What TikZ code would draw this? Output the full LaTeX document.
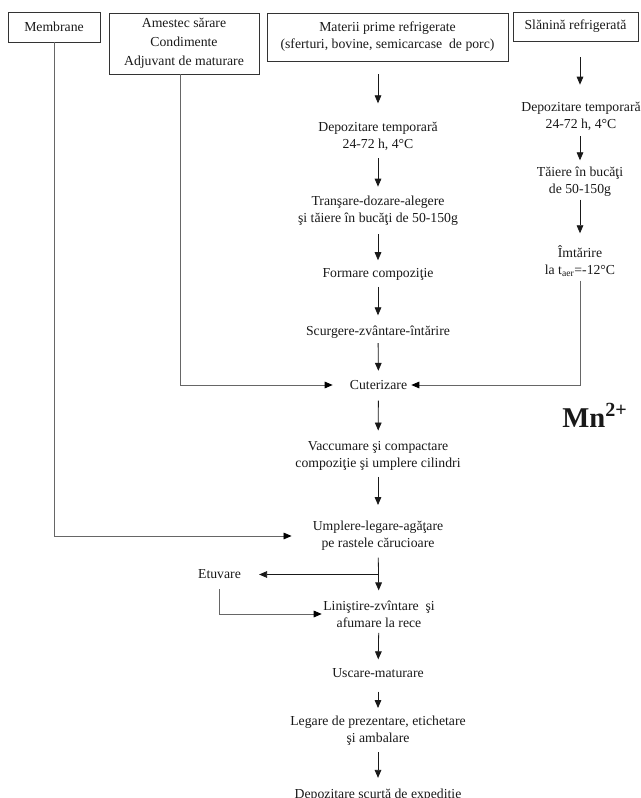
\documentclass[tikz,border=0pt]{standalone}
\usepackage{fontspec}
\setmainfont{Liberation Serif}
\usetikzlibrary{arrows.meta}
\begin{document}
\begin{tikzpicture}[x=0.75pt,y=-0.75pt,
  every node/.style={font=\fontsize{10.3}{12.75}\selectfont, align=center, inner sep=0pt, text=black!90},
  box/.style={draw=black!80, line width=0.6pt},
  arr/.style={draw=black!90, line width=0.6pt, -{Triangle[length=6pt,width=5pt]}},
  conn/.style={draw=black!60, line width=0.6pt, -{Triangle[length=6pt,width=5pt,color=black]}},
  line/.style={draw=black!60, line width=0.6pt}
]
\useasboundingbox (0,0) rectangle (641,798);

% top boxes
\node[box, minimum width=69pt, minimum height=22.5pt] (mem) at (54,27) {Membrane};
\node[box, minimum width=112.5pt, minimum height=45.75pt] (ame) at (184,43.5)
  {Amestec sărare\\[1.6pt]Condimente\\[1.6pt]Adjuvant de maturare};
\node[box, minimum width=180.75pt, minimum height=36pt] (mat) at (387.5,37)
  {Materii prime refrigerate\\(sferturi, bovine, semicarcase~ de porc)};
\node[box, minimum width=93.75pt, minimum height=21.75pt] (sla) at (575.5,26.5) {Slănină refrigerată};

% main column
\node (dep1) at (378,136.5) {Depozitare temporară\\24-72 h, 4°C};
\node (tran) at (378,211) {Tranşare-dozare-alegere\\şi tăiere în bucăţi de 50-150g};
\node (form) at (378,274.5) {Formare compoziţie};
\node (scur) at (378,332.5) {Scurgere-zvântare-întărire};
\node (cut) at (378.5,385) {Cuterizare};
\node (vac) at (378,456) {Vaccumare şi compactare\\compoziţie şi umplere cilindri};
\node (ump) at (378,536) {Umplere-legare-agăţare\\pe rastele cărucioare};
\node (lin) at (379,614) {Liniştire-zvîntare~ şi\\afumare la rece};
\node (usc) at (378,673.5) {Uscare-maturare};
\node (leg) at (378,731) {Legare de prezentare, etichetare\\şi ambalare};
\node (depx) at (378,795) {Depozitare scurtă de expediţie};

% right column
\node (rdep) at (581,116.5) {Depozitare temporară\\24-72 h, 4°C};
\node (rtai) at (580,182) {Tăiere în bucăţi\\de 50-150g};
\node (rimt) at (580,261) {Îmtărire\\la t\textsubscript{aer}=-12°C};

% side
\node (etu) at (219.5,574.5) {Etuvare};
\coordinate (br) at (378,574.5);
\node[anchor=base west, font=\fontsize{21.5}{24}\selectfont\bfseries] (mn) at (562,427) {Mn\textsuperscript{2+}};

% main arrows
\draw[arr, shorten <=9.75pt, shorten >=14pt] (dep1 |- mat.south) -- (dep1);
\draw[arr, shorten <=5.4pt, shorten >=7pt] (dep1) -- (tran);
\draw[arr, shorten <=6pt, shorten >=6pt] (tran) -- (form);
\draw[arr, shorten <=4.5pt, shorten >=8pt] (form) -- (scur);
\draw[arr, shorten <=3pt, shorten >=7pt] (scur) -- (cut);
\draw[arr, shorten <=8pt, shorten >=8pt] (cut) -- (vac);
\draw[arr, shorten <=4.5pt, shorten >=12pt] (vac) -- (ump);
\draw[arr, shorten <=5pt, shorten >=7.5pt] (ump) -- (lin);
\draw[arr, shorten <=4pt, shorten >=7pt] (lin) -- (usc);
\draw[arr, shorten <=10pt, shorten >=6pt] (usc) -- (leg);
\draw[arr, shorten <=4.5pt, shorten >=8pt] (leg) -- (depx);

% right arrows
\draw[arr, shorten <=12pt, shorten >=13pt] (rimt |- sla.south) -- (rimt |- rdep.north);
\draw[arr, shorten <=4pt, shorten >=5pt] (rimt |- rdep.south) -- (rtai);
\draw[arr, shorten <=2pt, shorten >=9pt] (rtai) -- (rimt);
\draw[conn, shorten <=3pt, shorten >=3pt] (rimt.south) |- (cut.east);

% left connectors
\draw[conn, shorten >=12.75pt] ([xshift=-3pt]ame.south) |- (cut.west);
\draw[conn, shorten >=15.75pt] (mem.south) |- (ump.west);
\draw[arr, shorten >=13.5pt] (br) -- (etu.east);
\draw[conn, shorten <=7.5pt, shorten >=1pt] (etu.south) |- (lin.west);
\end{tikzpicture}
\end{document}
